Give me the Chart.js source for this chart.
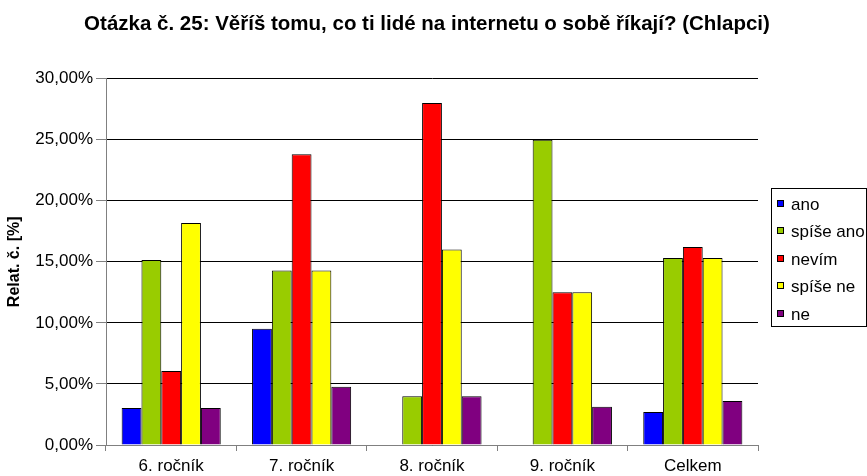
<!DOCTYPE html>
<html>
<head>
<meta charset="utf-8">
<script src="https://cdn.jsdelivr.net/npm/chart.js@4"></script>
<style>
    body { margin: 0; background: #fff; }
    #wrap { width: 867px; height: 476px; }
</style>
</head>
<body>
<div id="wrap"><canvas id="chart"></canvas></div>
<script>
const categories = ["6. ročník", "7. ročník", "8. ročník", "9. ročník", "Celkem"];
const seriesNames = ["ano", "spíše ano", "nevím", "spíše ne", "ne"];
const ano = [3.03, 9.52, 0, 0, 2.70];
const spiseAno = [15.15, 14.29, 4.00, 25.00, 15.32];
const nevim = [6.06, 23.81, 28.00, 12.50, 16.22];
const spiseNe = [18.18, 14.29, 16.00, 12.50, 15.32];
const ne = [3.03, 4.76, 4.00, 3.13, 3.60];
const colors = ["#0000FF", "#99CC00", "#FF0000", "#FFFF00", "#800080"];

const font = "'Liberation Sans', Arial, sans-serif";

// legenda v rámečku vpravo (jako v Excelu)
const boxLegend = {
    id: "boxLegend",
    afterDraw(chart) {
        const c = chart.ctx;
        const left = 771.5, top = 188.5, w = 95, h = 138;
        c.save();
        c.strokeStyle = "#000";
        c.lineWidth = 1;
        c.strokeRect(left, top, w, h);
        c.font = "17px " + font;
        c.textBaseline = "middle";
        chart.data.datasets.forEach((ds, i) => {
            const y = Math.round(top + 15 + i * 27.5);
            c.fillStyle = ds.backgroundColor;
            c.fillRect(777, y - 4, 7, 7);
            c.strokeRect(777.5, y - 3.5, 6, 6);
            c.fillStyle = "#000";
            c.fillText(ds.label, 791, y + 1);
        });
        c.restore();
    }
};

const series = [ano, spiseAno, nevim, spiseNe, ne];

new Chart(document.getElementById("chart"), {
    type: "bar",
    data: {
        labels: categories,
        datasets: series.map((d, i) => ({
            label: seriesNames[i],
            data: d,
            backgroundColor: colors[i],
            borderColor: "#000",
            borderWidth: 1,
            categoryPercentage: 0.76,
            barPercentage: 1
        }))
    },
    options: {
        responsive: true,
        maintainAspectRatio: false,
        animation: false,
        layout: { padding: { left: 0, right: 13, top: 0, bottom: 0 } },
        plugins: {
            legend: { display: false },
            tooltip: { enabled: false },
            title: {
                display: true,
                text: "Otázka č. 25: Věříš tomu, co ti lidé na internetu o sobě říkají? (Chlapci)",
                color: "#000",
                font: { family: font, size: 20.5, weight: "bold" },
                padding: { top: 12, bottom: 42 }
            }
        },
        scales: {
            x: {
                afterFit: s => { s.height = 31; },
                grid: {
                    offset: true,
                    drawOnChartArea: false,
                    drawTicks: true,
                    tickLength: 6,
                    tickColor: "#808080"
                },
                border: { color: "#808080" },
                ticks: { color: "#000", padding: 5, font: { family: font, size: 17 } }
            },
            y: {
                min: 0,
                max: 30,
                afterFit: s => { s.width = 106; },
                grid: {
                    color: "#000",
                    tickLength: 10,
                    tickColor: "#808080"
                },
                border: { color: "#808080" },
                ticks: {
                    stepSize: 5,
                    color: "#000",
                    padding: 3,
                    font: { family: font, size: 17 },
                    callback: v => v.toFixed(2).replace(".", ",") + "%"
                },
                title: {
                    display: true,
                    text: "Relat. č. [%]",
                    color: "#000",
                    font: { family: font, size: 16, weight: "bold" },
                    padding: { top: 5, bottom: 0 }
                }
            },
            // prázdné místo vpravo pro legendu
            yRight: {
                type: "linear",
                position: "right",
                afterFit: s => { s.width = 96; },
                grid: { drawOnChartArea: false, drawTicks: false },
                border: { display: false },
                ticks: { display: false }
            }
        }
    },
    plugins: [boxLegend]
});
</script>
</body>
</html>
